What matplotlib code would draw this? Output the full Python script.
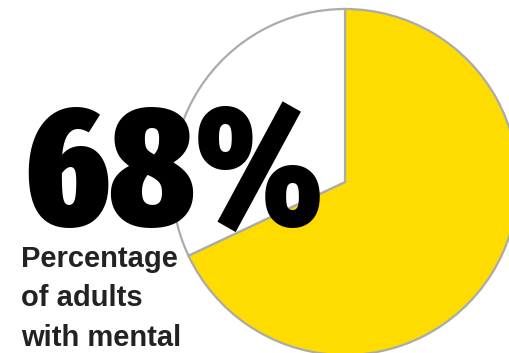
import matplotlib
matplotlib.use('Agg')
import matplotlib.pyplot as plt
from matplotlib import font_manager
from matplotlib.font_manager import FontProperties

# data
shares = [68, 32]
slice_colors = ['#FFDC00', '#FFFFFF']
big_label = '68%'
caption_lines = ['Percentage', 'of adults', 'with mental']

W, H = 509, 353
fig = plt.figure(figsize=(W / 100, H / 100), dpi=100)
ax = fig.add_axes([0, 0, 1, 1])

ax.pie(shares, colors=slice_colors, startangle=90, counterclock=False,
       center=(345, H - 182), radius=173,
       wedgeprops={'edgecolor': '#ABABAB', 'linewidth': 1.6})
ax.set_xlim(0, W)
ax.set_ylim(0, H)
ax.set_aspect('equal')
ax.axis('off')


def pick_narrow_bold():
    # look for the narrowest heavy face that is installed
    best, best_key = None, None
    for f in font_manager.fontManager.ttflist:
        fn = f.fname.replace('-', '').replace('_', '').lower()
        if 'extracondensed' in fn or 'ultracondensed' in fn:
            narrow = 3
        elif 'semicondensed' in fn:
            narrow = 1
        elif 'condensed' in fn or 'narrow' in fn or 'cond' in fn:
            narrow = 2
        else:
            continue
        if 'italic' in fn or 'oblique' in fn or 'mono' in fn:
            continue
        try:
            w = int(f.weight)
        except (TypeError, ValueError):
            w = 700 if 'bold' in str(f.weight) else 400
        if 'black' in fn or 'heavy' in fn:
            w = max(w, 900)
        elif 'extrabold' in fn:
            w = max(w, 800)
        elif 'bold' in fn and 'semibold' not in fn:
            w = max(w, 700)
        if w < 700:
            continue
        key = (narrow, w)
        if best_key is None or key > best_key:
            best, best_key = f.fname, key
    return best


fname = pick_narrow_bold()
if fname:
    big_fp = FontProperties(fname=fname)
else:
    big_fp = FontProperties(family='DejaVu Sans', weight='bold')

big = ax.text(23, H - 225, big_label, fontproperties=big_fp,
              color='black', ha='left', va='baseline', zorder=5)

# size the big number: cap height ~155 px, but keep its width in check
big.set_fontsize(100)
fig.canvas.draw()
r = fig.canvas.get_renderer()
bb = big.get_window_extent(r)
cap_at_100 = 100 * 100 / 72 * 0.73
size_h = 100 * 155 / cap_at_100
size_w = 100 * 300 / bb.width
big.set_fontsize(min(size_h, size_w))

for i, line in enumerate(caption_lines):
    ax.text(21, H - 267 - 39.5 * i, line, family='Liberation Sans',
            fontweight='bold', fontsize=21, color='#222222',
            ha='left', va='baseline', zorder=5)

fig.savefig('out.png', dpi=100)
